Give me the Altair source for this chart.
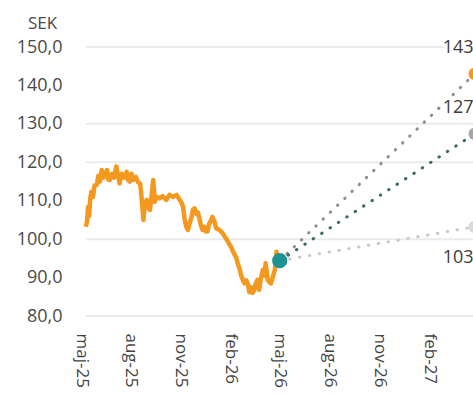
import altair as alt
import pandas as pd

# ---- data ----
price_dates = [
    "2025-05-10", "2025-05-12", "2025-05-14", "2025-05-16", "2025-05-18", "2025-05-20",
    "2025-05-23", "2025-05-26", "2025-05-30", "2025-06-02", "2025-06-05", "2025-06-08",
    "2025-06-11", "2025-06-14", "2025-06-18", "2025-06-20", "2025-06-23", "2025-06-27",
    "2025-07-01", "2025-07-05", "2025-07-09", "2025-07-11", "2025-07-15", "2025-07-19",
    "2025-07-24", "2025-07-26", "2025-07-30", "2025-08-02", "2025-08-05", "2025-08-10",
    "2025-08-14", "2025-08-18", "2025-08-21", "2025-08-24", "2025-08-27", "2025-08-30",
    "2025-09-02", "2025-09-05", "2025-09-07", "2025-09-11", "2025-09-14", "2025-09-17",
    "2025-09-23", "2025-09-28", "2025-10-05", "2025-10-11", "2025-10-17", "2025-10-24",
    "2025-10-30", "2025-11-02", "2025-11-05", "2025-11-08", "2025-11-11", "2025-11-14",
    "2025-11-17", "2025-11-21", "2025-11-23", "2025-11-26", "2025-11-30", "2025-12-02",
    "2025-12-05", "2025-12-08", "2025-12-11", "2025-12-14", "2025-12-17", "2025-12-20",
    "2025-12-23", "2025-12-27", "2025-12-29", "2026-01-02", "2026-01-05", "2026-01-09",
    "2026-01-14", "2026-01-18", "2026-01-23", "2026-01-28", "2026-02-02", "2026-02-06",
    "2026-02-11", "2026-02-14", "2026-02-17", "2026-02-20", "2026-02-23", "2026-02-26",
    "2026-03-01", "2026-03-04", "2026-03-07", "2026-03-10", "2026-03-13", "2026-03-16",
    "2026-03-19", "2026-03-22", "2026-03-25", "2026-03-28", "2026-04-01", "2026-04-04",
    "2026-04-06", "2026-04-10", "2026-04-13", "2026-04-16", "2026-04-20", "2026-04-23",
    "2026-04-26", "2026-04-29", "2026-05-01",
]
price_values = [
    103.2, 104.5, 108.4, 106.0, 110.5, 112.3,
    111.0, 114.0, 114.1, 116.5, 115.0, 118.0,
    116.0, 116.7, 118.0, 115.5, 115.4, 117.0,
    116.0, 118.9, 116.0, 114.5, 117.0, 116.0,
    117.5, 115.5, 115.0, 117.0, 115.4, 116.2,
    114.8, 114.5, 110.2, 105.0, 109.5, 110.2,
    108.2, 107.6, 110.0, 115.4, 109.7, 111.0,
    110.6, 111.2, 110.2, 111.5, 111.0, 111.5,
    110.2, 109.5, 108.4, 105.0, 103.2, 102.4,
    104.0, 106.0, 107.6, 108.0, 106.5, 107.0,
    105.5, 103.5, 102.4, 103.2, 102.0, 102.0,
    104.0, 105.0, 105.8, 104.5, 102.8, 102.6,
    102.0, 101.3, 100.2, 99.0, 97.8, 96.5,
    95.2, 93.5, 92.4, 90.5, 89.4, 88.5,
    89.3, 88.5, 86.2, 87.5, 86.0, 86.8,
    88.5, 89.4, 86.8, 89.5, 92.0, 90.5,
    93.7, 89.4, 88.8, 88.5, 90.5, 92.0,
    96.7, 94.6, 95.0,
]

today_date = "2026-05-02"
today_value = 94.4

target_date = "2027-04-26"
target_names = ["Hög", "Bas", "Låg"]
target_values = [143.0, 127.4, 103.2]
target_labels = ["143", "127", "103"]
target_label_side = ["over", "over", "under"]
line_colors = ["#8f8f8f", "#3a6b6b", "#c9c9c9"]
dot_colors = ["#F4991F", "#a6a6a6", "#d9d9d9"]

grid_values = [80, 100, 120, 130, 150]
y_tick_values = [80, 90, 100, 110, 120, 130, 140, 150]
month_names = ["jan", "feb", "mar", "apr", "maj", "jun", "jul", "aug", "sep", "okt", "nov", "dec"]
tick_months = [(2025, 5), (2025, 8), (2025, 11), (2026, 2), (2026, 5), (2026, 8), (2026, 11), (2027, 2)]

FONT = "Open Sans"
ORANGE = "#F4991F"
TEAL = "#1E9393"

# ---- tables ----
price_df = pd.DataFrame({"date": price_dates, "value": price_values})
grid_df = pd.DataFrame({"value": grid_values, "date": price_dates[0], "end": target_date})
fc_rows = []
for n, v in zip(target_names, target_values):
    fc_rows.append({"serie": n, "date": today_date, "value": today_value})
    fc_rows.append({"serie": n, "date": target_date, "value": v})
fc_df = pd.DataFrame(fc_rows)
end_df = pd.DataFrame({"serie": target_names, "date": target_date, "value": target_values,
                       "label": target_labels, "side": target_label_side})
today_df = pd.DataFrame({"date": [today_date], "value": [today_value]})

x_dom = [alt.DateTime(year=2025, month=5, date=1, utc=True),
         alt.DateTime(year=2027, month=4, date=23, utc=True)]
x_scale = alt.Scale(type="utc", domain=x_dom)
y_scale = alt.Scale(domain=[80, 150], nice=False, zero=False)

month_arr = "[" + ",".join("'" + m + "'" for m in month_names) + "]"
x_axis = alt.Axis(
    values=[alt.DateTime(year=y, month=m, date=1, utc=True) for y, m in tick_months],
    labelExpr=month_arr + "[utcmonth(datum.value)] + '-' + utcFormat(datum.value, '%y')",
    labelAngle=90, labelAlign="left", labelBaseline="middle",
    labelPadding=17, ticks=False, domain=False, grid=False, title=None,
    labelFont=FONT, labelFontSize=17, labelColor="#444444", labelOverlap=False,
)
y_axis = alt.Axis(
    values=y_tick_values,
    labelExpr="replace(format(datum.value, '.1f'), '.', ',')",
    ticks=False, domain=False, grid=False, labelPadding=19, labelOverlap=False,
    labelFont=FONT, labelFontSize=18, labelColor="#4a4a4a",
    title="SEK", titleAngle=0, titleX=-39, titleY=-19, titleAlign="center",
    titleBaseline="alphabetic", titleFont=FONT, titleFontSize=17,
    titleFontWeight="normal", titleColor="#4a4a4a",
)

X = alt.X("date:T", scale=x_scale, axis=x_axis)
Y = alt.Y("value:Q", scale=y_scale, axis=y_axis)

color_line = alt.Scale(domain=target_names, range=line_colors)
color_dot = alt.Scale(domain=target_names, range=dot_colors)

grid = alt.Chart(grid_df).mark_rule(color="#ebebeb", strokeWidth=2).encode(
    x=X, x2="end:T", y=Y,
)

price = alt.Chart(price_df).mark_line(color=ORANGE, strokeWidth=4.5, strokeJoin="round").encode(
    x=X, y=Y,
)

fc = alt.Chart(fc_df).mark_line(strokeWidth=3, strokeDash=[0.5, 9.5], strokeCap="round").encode(
    x=X, y=Y,
    color=alt.Color("serie:N", scale=color_line, legend=None),
    detail="serie:N",
)

ends = alt.Chart(end_df).mark_circle(size=150, opacity=1).encode(
    x=X, y=Y,
    color=alt.Color("serie:N", scale=color_dot, legend=None),
)

today = alt.Chart(today_df).mark_circle(size=230, opacity=1, color=TEAL).encode(
    x=X, y=Y,
)

def label_layer(side, dy, halo):
    props = dict(font=FONT, fontSize=18, align="right", baseline="middle", dy=dy, dx=-1)
    if halo:
        props.update(stroke="white", strokeWidth=6, color="white")
    else:
        props.update(color="#3c3c3c")
    return alt.Chart(end_df).transform_filter(alt.datum.side == side).mark_text(**props).encode(
        x=X, y=Y, text="label:N",
    )

labels = [
    label_layer("over", -26, True), label_layer("under", 31, True),
    label_layer("over", -26, False), label_layer("under", 31, False),
]

chart = alt.layer(grid, price, fc, ends, today, *labels).properties(
    width=392, height=269,
    autosize=alt.AutoSizeParams(type="none"),
    padding={"left": 81, "top": 47, "right": 0, "bottom": 80},
).configure_view(stroke=None).resolve_scale(color="independent")

chart.save("out.html", embed_options={"renderer": "svg", "actions": False})
